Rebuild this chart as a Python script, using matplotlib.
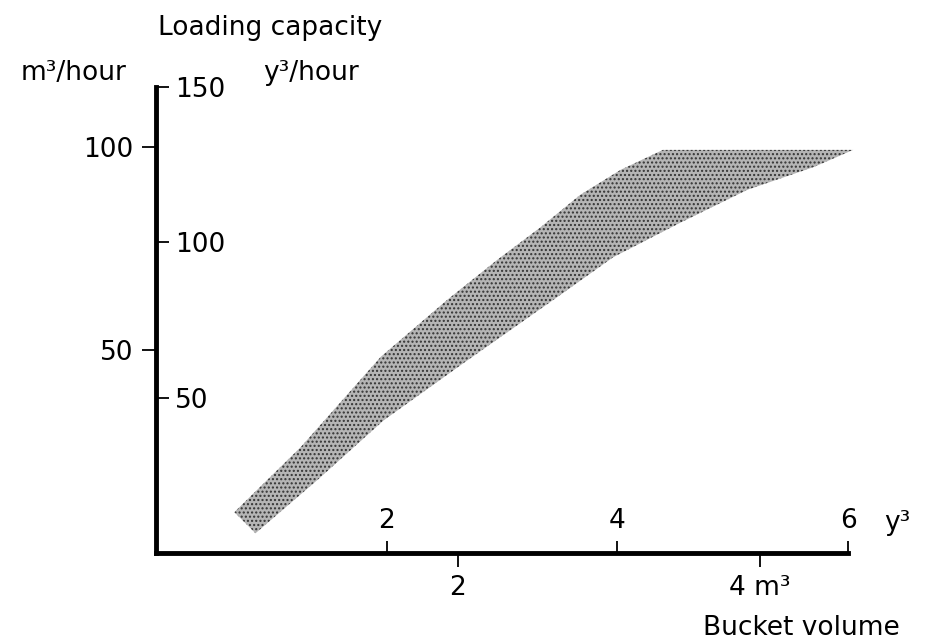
import matplotlib.pyplot as plt

M3_PER_YD3 = 0.7646

# shaded band: bucket volume (m3) vs capacity (m3/hour)
upper_x = [0.52, 0.96, 1.49, 1.93, 2.26, 2.55, 2.81, 3.08, 3.36, 4.62]
upper_y = [10.1, 26.1, 48.3, 62.3, 72.1, 80.2, 88.1, 94.3, 99.2, 99.2]
lower_x = [0.66, 1.07, 1.51, 2.04, 2.66, 3.03, 3.47, 3.92, 4.36, 4.62]
lower_y = [4.9, 18.0, 32.7, 46.8, 63.0, 72.8, 81.2, 89.4, 95.0, 99.2]

m3_xticks = [2, 4]
m3_xlabels = ['2', '4 m³']
yd3_xticks = [2, 4, 6]
m3_yticks = [50, 100]
yd3_yticks = [50, 100, 150]

FS = 19

fig = plt.figure(figsize=(9.28, 6.44), dpi=100)
ax = fig.add_axes([0.168, 0.141, 0.746, 0.724])

poly_x = upper_x + lower_x[::-1]
poly_y = upper_y + lower_y[::-1]
ax.fill(poly_x, poly_y, facecolor='#b5b5b5', edgecolor='#333333',
        hatch='....', linewidth=0, clip_on=False)

ax.set_xlim(0, 6 * M3_PER_YD3)
ax.set_ylim(0, 150 * M3_PER_YD3)

for s in ['top', 'right']:
    ax.spines[s].set_visible(False)
for s in ['left', 'bottom']:
    ax.spines[s].set_linewidth(3.5)
    ax.spines[s].set_capstyle('projecting')

# m3 scales (outer ticks)
ax.set_xticks(m3_xticks)
ax.set_xticklabels(m3_xlabels)
ax.set_yticks(m3_yticks)
ax.tick_params(axis='both', direction='out', length=10, width=1.3,
               labelsize=FS, pad=6)

# yd3 scales (inner ticks)
secx = ax.secondary_xaxis(0, functions=(lambda v: v / M3_PER_YD3,
                                        lambda v: v * M3_PER_YD3))
secx.set_xticks(yd3_xticks)
secx.spines['bottom'].set_visible(False)
secx.spines['top'].set_visible(False)
secx.tick_params(axis='x', bottom=False, labelbottom=False, top=True,
                 labeltop=True, direction='out', length=9, width=1.3,
                 labelsize=FS, pad=5)

secy = ax.secondary_yaxis(0, functions=(lambda v: v / M3_PER_YD3,
                                        lambda v: v * M3_PER_YD3))
secy.set_yticks(yd3_yticks)
secy.spines['left'].set_visible(False)
secy.spines['right'].set_visible(False)
secy.tick_params(axis='y', left=False, labelleft=False, right=True,
                 labelright=True, direction='out', length=9, width=1.3,
                 labelsize=FS, pad=5)

# labels
fig.text(0.291, 0.957, 'Loading capacity', fontsize=FS, ha='center', va='center')
fig.text(0.022, 0.887, 'm³/hour', fontsize=FS, ha='left', va='center')
fig.text(0.284, 0.887, 'y³/hour', fontsize=FS, ha='left', va='center')
fig.text(0.953, 0.188, 'y³', fontsize=FS, ha='left', va='center')
fig.text(0.97, 0.025, 'Bucket volume', fontsize=FS, ha='right', va='center')

plt.savefig('out.png', dpi=100)
